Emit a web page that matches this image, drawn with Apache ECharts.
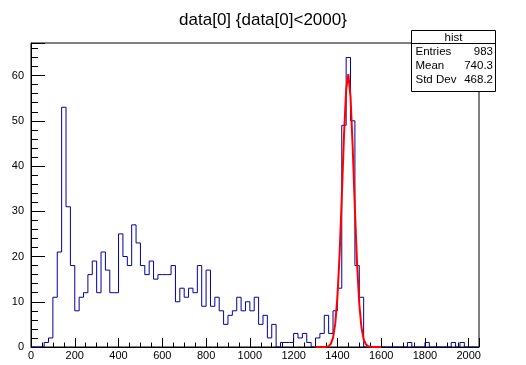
<!DOCTYPE html>
<html>
<head>
<meta charset="utf-8">
<script src="https://cdn.jsdelivr.net/npm/echarts@6/dist/echarts.min.js"></script>
<style>
html,body{margin:0;padding:0;background:#fff;}
#c{width:526px;height:365px;}
</style>
</head>
<body>
<div id="c"></div>
<script>
// ---- data ----
var titleText = 'data[0] {data[0]<2000}';
var binStart = 0;
var binWidth = 20;
var counts = [
  0, 0, 0, 1, 2, 11, 21, 53, 31, 18,
  8, 11, 12, 16, 19, 12, 21, 17, 12, 12,
  25, 20, 18, 27, 23, 18, 16, 19, 15, 16,
  16, 16, 18, 10, 13, 11, 13, 12, 18, 9,
  17, 9, 11, 8, 5, 7, 8, 11, 8, 10,
  8, 11, 5, 7, 2, 5, 0, 1, 1, 1,
  3, 2, 3, 1, 0, 2, 3, 7, 3, 8,
  13, 49, 64, 50, 18, 11, 0, 0, 0, 0,
  0, 0, 0, 0, 0, 0, 1, 0, 0, 0,
  1, 0, 0, 0, 0, 0, 1, 0, 1, 0,
  0, 0
];
var fitX = [1300, 1310, 1320, 1330, 1340, 1350, 1360, 1370, 1380, 1390, 1400, 1410, 1420, 1430, 1440, 1450,
            1460, 1470, 1480, 1490, 1500, 1510, 1520, 1530, 1540, 1550, 1560, 1570, 1580, 1590, 1600];
var fitY = [0, 0, 0, 0, 0.01, 0.06, 0.2, 0.7, 2.0, 5.1, 10.9, 20.4, 33.1, 46.6, 56.9, 60.3,
            55.3, 44.0, 30.4, 18.2, 9.5, 4.3, 1.7, 0.6, 0.16, 0.04, 0, 0, 0, 0, 0];
var xTicks = [0, 200, 400, 600, 800, 1000, 1200, 1400, 1600, 1800, 2000];
var yTicks = [0, 10, 20, 30, 40, 50, 60];
var statsName = 'hist';
var statsLabels = ['Entries', 'Mean', 'Std Dev'];
var statsValues = ['983', '740.3', '468.2'];

// ---- build ----
var histData = [];
for (var k = 0; k < counts.length; k++) {
  histData.push([binStart + k * binWidth, counts[k]]);
}
histData.push([binStart + counts.length * binWidth, 0]);
var fitData = fitX.map(function (x, i) { return [x, fitY[i]]; });

var FONT = 'Liberation Sans';
var chart = echarts.init(document.getElementById('c'), null, {renderer: 'canvas'});

var statsGraphics = [
  {type: 'rect', shape: {x: 411.5, y: 30.5, width: 84, height: 61}, style: {fill: '#fff', stroke: '#000', lineWidth: 1}, z: 100},
  {type: 'line', shape: {x1: 411.5, y1: 43.5, x2: 495.5, y2: 43.5}, style: {stroke: '#000', lineWidth: 1}, z: 101},
  {type: 'text', x: 453.5, y: 37.5, style: {text: statsName, fontFamily: FONT, fontSize: 11.5, fill: '#000', align: 'center', verticalAlign: 'middle'}, z: 101}
];
for (var i = 0; i < statsLabels.length; i++) {
  statsGraphics.push({type: 'text', x: 415.5, y: 51.5 + i * 14.3, style: {text: statsLabels[i], fontFamily: FONT, fontSize: 11.5, fill: '#000', align: 'left', verticalAlign: 'middle'}, z: 101});
  statsGraphics.push({type: 'text', x: 493, y: 51.5 + i * 14.3, style: {text: statsValues[i], fontFamily: FONT, fontSize: 11.5, fill: '#000', align: 'right', verticalAlign: 'middle'}, z: 101});
}

chart.setOption({
  animation: false,
  title: {
    text: titleText, left: 'center', top: 7,
    textStyle: {fontFamily: FONT, fontSize: 17, fontWeight: 'normal', color: '#000'}
  },
  grid: {left: 31, right: 47, top: 43, bottom: 18, show: true, borderColor: '#000', borderWidth: 1, backgroundColor: 'transparent'},
  xAxis: {
    type: 'value', min: 0, max: 2047, interval: 200,
    axisLine: {show: true, lineStyle: {color: '#000', width: 1}},
    axisTick: {show: true, inside: true, length: 9, lineStyle: {color: '#000'}},
    minorTick: {show: true, splitNumber: 4, length: 4.5, lineStyle: {color: '#000'}},
    splitLine: {show: false},
    axisLabel: {
      fontFamily: FONT, fontSize: 11, color: '#000', margin: 3,
      formatter: function (v) { return xTicks.indexOf(v) >= 0 ? String(v) : ''; }
    }
  },
  yAxis: {
    type: 'value', min: 0, max: 67.2, interval: 10,
    axisLine: {show: true, lineStyle: {color: '#000', width: 1}},
    axisTick: {show: true, inside: true, length: 14, lineStyle: {color: '#000'}},
    minorTick: {show: true, splitNumber: 5, length: 7, lineStyle: {color: '#000'}},
    splitLine: {show: false},
    axisLabel: {
      fontFamily: FONT, fontSize: 11, color: '#000', margin: 7,
      formatter: function (v) { return yTicks.indexOf(v) >= 0 ? String(v) : ''; }
    }
  },
  series: [
    {
      type: 'line', data: histData, step: 'end', symbol: 'none',
      lineStyle: {color: '#000099', width: 1}, z: 3
    },
    {
      type: 'line', data: fitData, symbol: 'none', smooth: false,
      lineStyle: {color: '#ff0000', width: 2}, z: 4
    }
  ],
  graphic: statsGraphics
});
</script>
</body>
</html>
